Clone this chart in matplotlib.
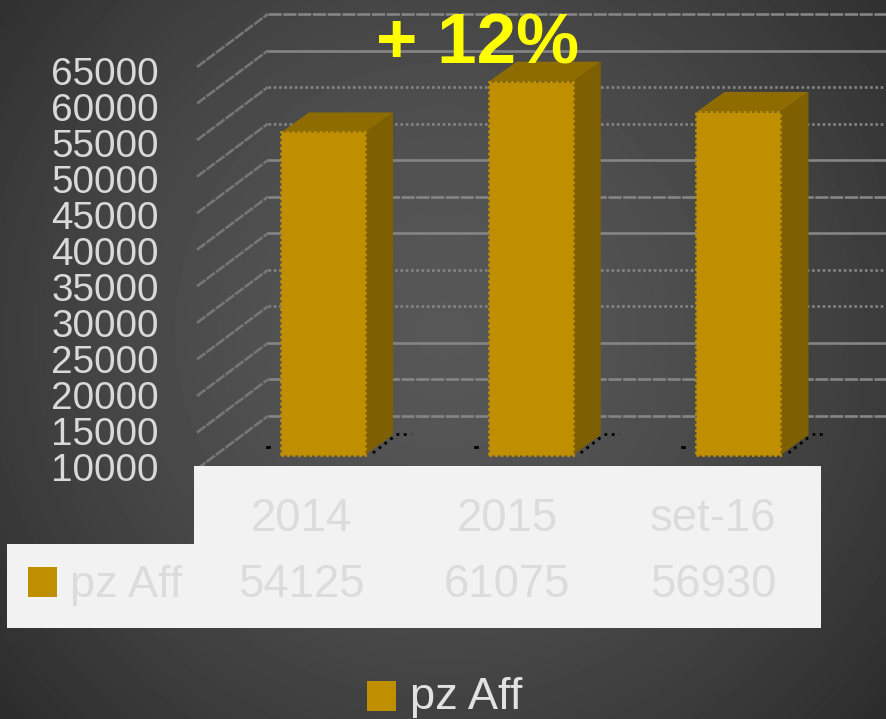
import numpy as np
import matplotlib
matplotlib.use('Agg')
import matplotlib.pyplot as plt
from matplotlib.patches import Rectangle
from matplotlib.transforms import offset_copy

plt.rcParams['font.family'] = ['Liberation Sans', 'DejaVu Sans']

categories = ['2014', '2015', 'set-16']
pz_aff = [54125, 61075, 56930]
y_ticks = [10000, 15000, 20000, 25000, 30000, 35000, 40000, 45000, 50000, 55000, 60000, 65000]
series_name = 'pz Aff'
note = '+ 12%'

W, H = 887, 719
fig = plt.figure(figsize=(W / 100, H / 100), dpi=100)

# pixel axes for background, table and text
bg = fig.add_axes([0, 0, 1, 1])
bg.axis('off')

xx, yy = np.meshgrid(np.arange(W), np.arange(H))
r = np.sqrt(((xx - 443) / 620) ** 2 + ((yy - 330) / 620) ** 2)
shade = 0x57 - (0x57 - 0x28) * np.clip(r, 0, 1) ** 1.6
bg.imshow(shade, cmap='gray', vmin=0, vmax=255, extent=(0, W, H, 0), aspect='auto', zorder=0)
bg.set_xlim(0, W)
bg.set_ylim(H, 0)

# data axes: one category = 207.75 px, 5000 units = 36.55 px
px_x = 207.75
px_y = 36.55 / 5000
ax = fig.add_axes([0, 0, 1, 1])
ax.patch.set_alpha(0)
ax.axis('off')
ax.set_xlim(-323 / px_x, (W - 323) / px_x)
ax.set_ylim(10000 - (H - 455) / px_y, 10000 + 455 / px_y)

# back wall and left wall
wall = offset_copy(ax.transData, fig=fig, x=0, y=39, units='dots')
ticked = (0, (5, 0.6))
dotted = (0, (1, 1))
styles = [ticked, ticked, '-', dotted, dotted, '-', ticked, '-', dotted, dotted, '-', ticked]
x0 = (268 - 323) / px_x
x_front = (197 - 323) / px_x
for v, ls in zip(y_ticks, styles):
    ax.plot([x0, (W - 323) / px_x], [v, v], transform=wall, color='#858585', lw=1.9, ls=ls, zorder=1)
    ax.plot([x_front, x0], [v - 53 / px_y, v], transform=wall, color='#767676', lw=1.9, ls=(0, (4, 0.5)), zorder=1)

# 3d bars
bar_w = 84 / px_x
dx = 28 / px_x
dy = 20 / px_y
xs = np.arange(len(categories))
for x, v in zip(xs, pz_aff):
    r_edge = x + bar_w / 2
    l_edge = x - bar_w / 2
    ax.fill([r_edge, r_edge + dx, r_edge + dx, r_edge], [10000, 10000 + dy, v + dy, v], color='#7f6000', lw=0, zorder=3)
    ax.fill([l_edge, r_edge, r_edge + dx, l_edge + dx], [v, v, v + dy, v + dy], color='#8f6c00', lw=0, zorder=3)
    ax.plot([r_edge + 8 / px_x, r_edge + dx + 3 / px_x], [10000 + 2 / px_y, 10000 + 20 / px_y],
            color='black', lw=2, ls=':', zorder=2)
    ax.plot([r_edge + dx + 3 / px_x, r_edge + dx + 18 / px_x], [10000 + 21 / px_y, 10000 + 21 / px_y],
            color='black', lw=2, ls=':', zorder=2)
    ax.plot([l_edge - 14 / px_x, l_edge - 12 / px_x], [10000 + 8 / px_y, 10000 + 8 / px_y], color='black', lw=2, zorder=2)
ax.bar(xs, np.array(pz_aff) - 10000, bottom=10000, width=bar_w, color='#bf8f00',
       edgecolor='#bf8f00', lw=2, ls=(0, (1, 1)), zorder=4)

# overlay for the table, so it covers the lower walls
top = fig.add_axes([0, 0, 1, 1])
top.patch.set_alpha(0)
top.axis('off')
top.set_xlim(0, W)
top.set_ylim(H, 0)

top.add_patch(Rectangle((194, 466), 627, 162, color='#f2f2f2', lw=0))
top.add_patch(Rectangle((7, 544), 187, 84, color='#f2f2f2', lw=0))
top.add_patch(Rectangle((28, 567), 29, 30, color='#bf8f00', lw=0))
top.add_patch(Rectangle((367, 681), 29, 30, color='#bf8f00', lw=0))

top.text(478, 45, note, color='#ffff00', fontsize=51, fontweight='bold', ha='center', va='center')

for i, lab in enumerate(y_ticks):
    top.text(159, 471 - 36 * i, str(lab), color='#d9d9d9', fontsize=27.8, ha='right', va='center')

for x, c, v in zip([301, 507, 713], categories, pz_aff):
    top.text(x, 519, c, color='#dcdcdc', fontsize=32.8, ha='center', va='center')
    top.text(x, 585, str(v), color='#dcdcdc', fontsize=32.8, ha='center', va='center')

top.text(70, 585, series_name, color='#dcdcdc', fontsize=32.6, ha='left', va='center')
top.text(410, 698, series_name, color='#e2e2e2', fontsize=32.6, ha='left', va='center')

fig.savefig('out.png', dpi=100)
